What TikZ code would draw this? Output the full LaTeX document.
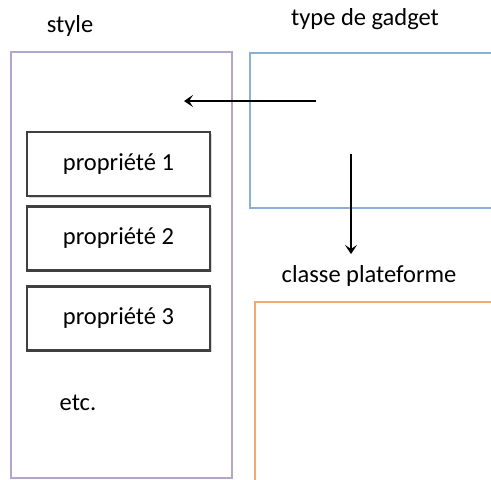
\documentclass[tikz,border=0pt]{standalone}
\usepackage{fontspec}
\setmainfont{Carlito}
\usetikzlibrary{shadows,arrows.meta}
\definecolor{stylecol}{RGB}{180,165,205}
\definecolor{gadgetcol}{RGB}{140,175,215}
\definecolor{platecol}{RGB}{240,170,115}
\begin{document}
\begin{tikzpicture}[x=1pt, y=-1pt, font=\fontsize{24.5}{28}\selectfont,
	box/.style = {draw, rectangle, line width=2pt, minimum width=221pt, minimum height=426pt, inner sep=0pt},
	prop/.style = {draw=black!75, fill=white, rectangle, line width=2.2pt, minimum width=183pt, minimum height=64pt,
		drop shadow={shadow xshift=1.5pt, shadow yshift=-1.5pt, opacity=0.3}},
	arr/.style = {-{Stealth[length=9pt, width=12pt, inset=4pt]}, line width=2.2pt}]
	\useasboundingbox (0,0) rectangle (491,480);
	\clip (0,0) rectangle (491,480);
	% boites
	\node[box, draw=stylecol] (style) at (121.5,265) {};
	\node[box, draw=gadgetcol, minimum width=290pt, minimum height=155pt, anchor=north west] (gadget) at (249,52) {};
	\node[box, draw=platecol, minimum width=290pt, minimum height=240pt, anchor=north west] (plate) at (254,301) {};
	% titres
	\node (t1) at (70,26) {style};
	\node (t2) at (365,19) {type de gadget};
	\node (t3) at (369,276) {classe plateforme};
	% proprietes
	\node[prop] (p1) at (118.5,164) {propriété 1};
	\node[prop] (p2) at (118.5,238.5) {propriété 2};
	\node[prop] (p3) at (118.5,318.5) {propriété 3};
	\node (etc) at (78,403) {etc.};
	% fleches
	\coordinate (a1) at (316,101);
	\coordinate (b1) at (184,101);
	\coordinate (a2) at (351,154);
	\coordinate (b2) at (351,254);
	\draw[arr] (a1) -- (b1);
	\draw[arr] (a2) -- (b2);
\end{tikzpicture}
\end{document}
